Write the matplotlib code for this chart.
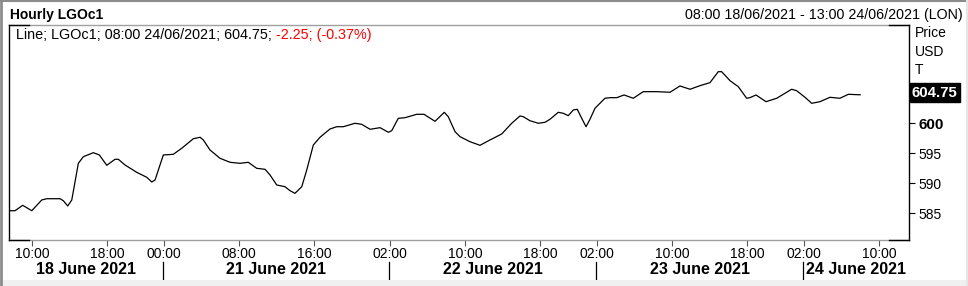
import matplotlib
matplotlib.use("Agg")
import matplotlib.pyplot as plt
from matplotlib.lines import Line2D
from matplotlib.patches import Rectangle

plt.rcParams['font.family'] = ['Liberation Sans', 'DejaVu Sans']

# ---- data (hour index since 08:00 18/06/2021, trading hours only) ----
hours = [-0.41, 0.19, 1.01, 1.97, 3.03, 3.56, 4.97, 5.32, 5.79, 6.22, 6.92, 7.45,
         8.51, 9.15, 9.94, 10.82, 11.17, 11.88, 13.12, 14.19, 14.72, 15.07, 15.95,
         17.01, 17.90, 19.14, 19.85, 20.20, 20.91, 21.97, 23.04, 24.10, 24.98, 25.87,
         26.76, 27.29, 28.00, 28.88, 29.41, 29.94, 30.66, 31.19, 31.89, 32.60, 33.66,
         34.38, 35.08, 36.32, 37.03, 37.92, 38.98, 39.86, 40.22, 40.92, 41.63, 42.88,
         43.65, 44.82, 45.81, 46.23, 46.95, 47.48, 48.54, 49.60, 50.66, 51.91, 52.97,
         53.85, 54.20, 54.91, 55.80, 56.51, 57.04, 57.92, 58.45, 58.98, 59.52, 59.94,
         60.41, 60.87, 61.29, 61.82, 62.88, 63.42, 64.13, 64.91, 65.89, 66.95, 68.38,
         69.79, 70.85, 71.92, 72.98, 74.04, 74.92, 75.28, 76.17, 77.05, 77.94, 78.29,
         78.93, 79.99, 81.13, 82.72, 83.25, 84.14, 84.85, 85.73, 86.79, 87.85, 88.74,
         90.00]
prices = [585.43, 585.43, 586.33, 585.43, 587.22, 587.43, 587.43, 587.10, 586.22, 587.22,
          593.33, 594.43, 595.10, 594.72, 593.00, 594.00, 594.00, 593.05, 591.83, 591.00,
          590.22, 590.55, 594.72, 594.83, 595.83, 597.43, 597.67, 597.22, 595.55, 594.17,
          593.50, 593.33, 593.50, 592.50, 592.33, 591.38, 589.72, 589.43, 588.77, 588.33,
          589.43, 592.22, 596.38, 597.67, 599.05, 599.43, 599.43, 600.00, 599.83, 599.00,
          599.27, 598.50, 598.77, 600.83, 600.93, 601.50, 601.50, 600.33, 601.83, 601.10,
          598.60, 597.77, 596.93, 596.33, 597.22, 598.22, 600.00, 601.22, 601.10, 600.43,
          600.00, 600.17, 600.67, 601.83, 601.67, 601.27, 602.22, 602.33, 600.83, 599.43,
          600.67, 602.50, 604.17, 604.27, 604.27, 604.72, 604.17, 605.27, 605.27, 605.17,
          606.22, 605.67, 606.27, 606.77, 608.60, 608.60, 607.10, 606.10, 604.17, 604.27,
          604.72, 603.60, 604.17, 605.67, 605.43, 604.33, 603.33, 603.60, 604.33, 604.17,
          604.83, 604.75]

xtick_pos = [2, 10, 16, 24, 32, 40, 48, 56, 62, 70, 78, 84, 92]
xtick_labels = ["10:00", "18:00", "00:00", "08:00", "16:00", "02:00", "10:00",
                "18:00", "02:00", "10:00", "18:00", "02:00", "10:00"]
day_bounds = [-0.45, 15.93, 39.94, 61.94, 83.94, 95.19]
day_labels = ["18 June 2021", "21 June 2021", "22 June 2021", "23 June 2021", "24 June 2021"]
ytick_pos = [585, 590, 595, 600]
last_price = 604.75

W, H = 968, 286
fig = plt.figure(figsize=(W / 100, H / 100), dpi=100)
fig.patch.set_facecolor("white")

def fx(x):
    return x / W

def fy(y):
    return 1 - y / H

ax_l, ax_r, ax_t, ax_b = 9, 909, 25, 240
ax = fig.add_axes([fx(ax_l), fy(ax_b), (ax_r - ax_l) / W, (ax_b - ax_t) / H])
ax.plot(hours, prices, color="black", lw=0.9, solid_joinstyle="round")
ax.set_xlim(-0.45, 95.19)
ax.set_ylim(580.55, 616.38)

for s in ["left", "right"]:
    ax.spines[s].set_color("black")
    ax.spines[s].set_linewidth(1.0)
for s in ["top", "bottom"]:
    ax.spines[s].set_color("#a0a0a0")
    ax.spines[s].set_linewidth(1.0)

ax.yaxis.tick_right()
ax.set_yticks(ytick_pos)
ax.set_yticklabels([str(v) for v in ytick_pos])
ax.tick_params(axis="y", direction="out", length=4.5, width=0.8, color="black",
               labelsize=10, pad=2)
for lab in ax.get_yticklabels():
    if lab.get_text() == "600":
        lab.set_fontweight("bold")
        lab.set_fontsize(11)
ax.set_xticks(xtick_pos)
ax.set_xticklabels(xtick_labels)
ax.tick_params(axis="x", direction="out", length=4, width=0.8, color="#555555",
               labelsize=10, pad=1)

# black corner brackets
corner = 20
for (x0, y0, dx) in [(ax_l, ax_t, 1), (ax_r, ax_t, -1), (ax_l, ax_b, 1), (ax_r, ax_b, -1)]:
    fig.add_artist(Line2D([fx(x0), fx(x0 + dx * corner)], [fy(y0), fy(y0)],
                          color="black", lw=1.0))

# last price box
ax.annotate(f"{last_price:.2f}", xy=(1.0, last_price), xycoords=("axes fraction", "data"),
            xytext=(2, 1.5), textcoords="offset points", ha="left", va="center",
            fontsize=10.8, fontweight="bold", color="white",
            bbox=dict(boxstyle="square,pad=0.15", fc="black", ec="black"))

# day labels and separators
for i, lab in enumerate(day_labels):
    a, b = day_bounds[i], day_bounds[i + 1]
    ax.text((a + b) / 2, -0.135, lab, transform=ax.get_xaxis_transform(),
            ha="center", va="center", fontsize=11.5, fontweight="bold")
for b in day_bounds[1:-1]:
    ax.plot([b, b], [-0.10, -0.185], transform=ax.get_xaxis_transform(),
            color="black", lw=0.9, clip_on=False)

# header texts
fig.text(fx(10.5), fy(15), "Hourly LGOc1", ha="left", va="center", fontsize=10,
         fontweight="bold")
fig.text(fx(963), fy(14.5), "08:00 18/06/2021 - 13:00 24/06/2021 (LON)", ha="right",
         va="center", fontsize=10.3)
t1 = fig.text(fx(16.5), fy(35), "Line; LGOc1; 08:00 24/06/2021; 604.75; ", ha="left",
              va="center", fontsize=10.4)
fig.canvas.draw()
bb = t1.get_window_extent(renderer=fig.canvas.get_renderer())
fig.text(bb.x1 / W, fy(35), "-2.25; (-0.37%)", ha="left", va="center", fontsize=10.4,
         color="#ff0000")
for y, t in [(33.5, "Price"), (51.5, "USD"), (69.5, "T")]:
    fig.text(fx(915), fy(y), t, ha="left", va="center", fontsize=10)

# outer frame
fig.add_artist(Rectangle((0, 0), 1, (H - 279.5) / H, transform=fig.transFigure,
                         fc="#f0f0f0", ec="none"))
fig.add_artist(Line2D([fx(1.2), fx(1.2)], [0, 1], color="#8c8c8c", lw=2.0))
fig.add_artist(Line2D([0, 1], [fy(0.8), fy(0.8)], color="#8c8c8c", lw=1.5))
fig.add_artist(Line2D([fx(967), fx(967)], [0, 1], color="#e6e6e6", lw=1.5))

fig.savefig("out.png", dpi=100, facecolor="white")
